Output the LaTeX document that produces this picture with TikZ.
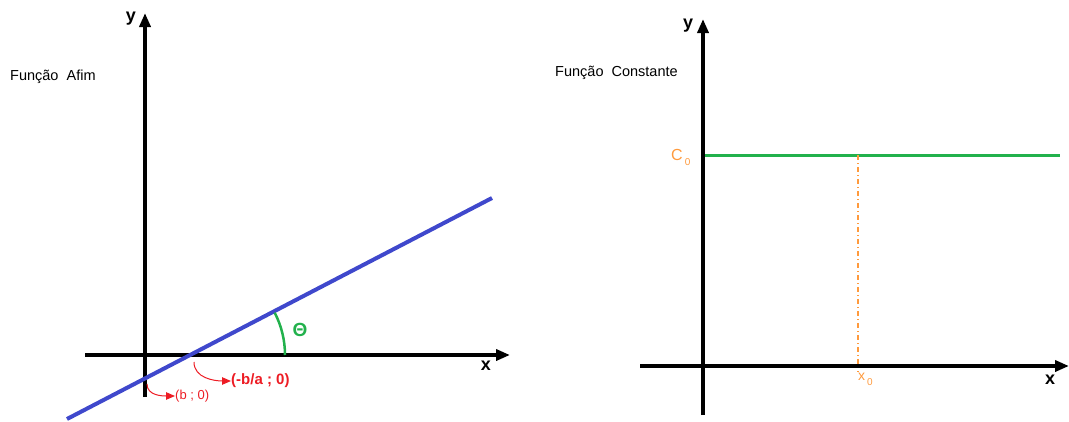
\documentclass[tikz,border=0pt]{standalone}
\usepackage{fontspec}
\setmainfont{Liberation Sans}
\usepackage{xcolor}
\usepackage{tikz}
\usetikzlibrary{arrows.meta,positioning,calc}
\definecolor{lineblue}{HTML}{3F48CC}
\definecolor{paintgreen}{HTML}{22B14C}
\definecolor{paintred}{HTML}{ED1C24}
\definecolor{paintorange}{HTML}{FF9A3D}

\tikzset{
  axisline/.style={line width=4pt, -{Triangle[length=14pt,width=11pt]}},
  axislabel/.style={font=\fontsize{18}{18}\selectfont\bfseries, inner sep=0pt},
  titlelabel/.style={font=\fontsize{14.5}{16}\selectfont, inner sep=0pt, anchor=west},
  redarrow/.style={paintred, line width=1pt, -{Triangle[length=9pt,width=7.5pt]}},
}
\newcommand{\lowzero}{\hspace{2pt}\raisebox{-5pt}{\fontsize{10}{10}\selectfont 0}}

\begin{document}
\begin{tikzpicture}[x=1pt, y=-1pt]
  \useasboundingbox (0,0) rectangle (1069,421);

  \coordinate (yAbot) at (145,397);
  \coordinate (yAtop) at (145,13);
  \coordinate (xAleft) at (85,355);
  \coordinate (xAright) at (510,355);
  \coordinate (affStart) at (67,419);
  \coordinate (affEnd) at (492,198);
  \coordinate (root) at (193,355);
  \coordinate (rootDown) at (194,362);
  \coordinate (cutDown) at (147,384);

  \node[titlelabel] (afimTitle) at (10,77) {Função\ \ Afim};
  \draw[axisline] (yAbot) -- (yAtop);
  \draw[axisline] (xAleft) -- (xAright);
  \node[axislabel] (yA) at (131,19) {y};
  \node[axislabel] (xA) at (486,366) {x};

  \draw[lineblue, line width=4pt] (affStart) -- (affEnd);
  \draw[paintgreen, line width=2.5pt] ($(root)+(92pt,0pt)$) arc[start angle=0, end angle=27.4, radius=92pt];
  \node[paintgreen, font=\fontsize{19}{19}\selectfont\bfseries, inner sep=0pt] (theta) at (300,330) {Θ};

  \node[paintred, font=\fontsize{15}{15}\selectfont\bfseries, inner sep=0pt, anchor=west] (negba) at (231,381) {(-b/a ; 0)};
  \node[paintred, font=\fontsize{13}{13}\selectfont, inner sep=0pt, anchor=west] (bzero) at (175,396) {(b ; 0)};
  \draw[redarrow] (rootDown) to[out=-90, in=180] (negba.west);
  \draw[redarrow] (cutDown) to[out=-90, in=180] (bzero.west);

  \coordinate (yBbot) at (703,415);
  \coordinate (yBtop) at (703,19);
  \coordinate (xBleft) at (640,366);
  \coordinate (xBright) at (1069,366);
  \coordinate (constStart) at (703,155);
  \coordinate (constEnd) at (1060,155);
  \coordinate (xzeroTop) at (858,155);
  \coordinate (xzeroBot) at (858,372);

  \node[titlelabel] (constTitle) at (555,73) {Função\ \ Constante};
  \draw[paintgreen, line width=3pt] (constStart) -- (constEnd);
  \draw[paintorange, line width=1.1pt, dash pattern=on 5pt off 3pt on 1pt off 3pt] (xzeroTop) -- (xzeroBot);
  \draw[axisline] (yBbot) -- (yBtop);
  \draw[axisline] (xBleft) -- (xBright);
  \node[axislabel] (yB) at (688,26) {y};
  \node[axislabel] (xB) at (1050,380) {x};

  \node[paintorange, font=\fontsize{16}{16}\selectfont, inner sep=0pt, anchor=west] (czero) at (671,157) {C\lowzero};
  \node[paintorange, font=\fontsize{14}{14}\selectfont, inner sep=0pt, anchor=west] (xzero) at (858,379) {x\lowzero};
\end{tikzpicture}
\end{document}
